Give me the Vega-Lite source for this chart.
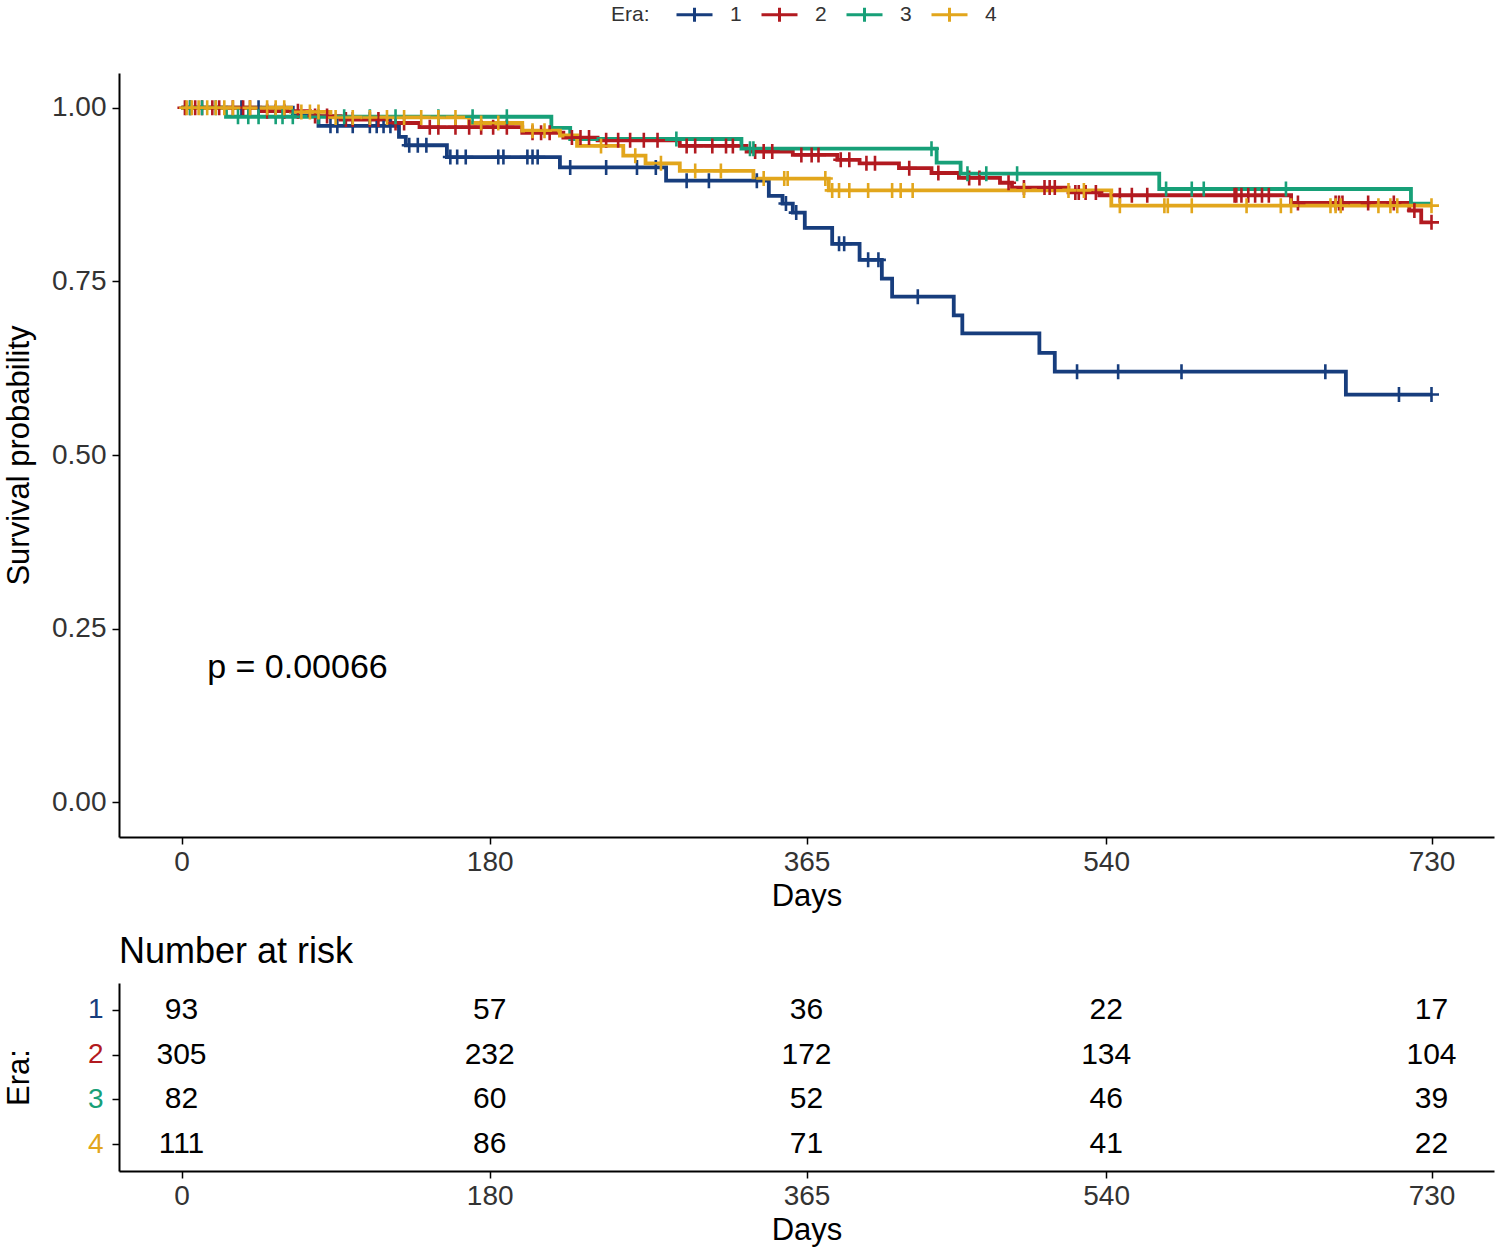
{
  "$schema": "https://vega.github.io/schema/vega-lite/v6.json",
  "background": "white",
  "padding": {"left": 3, "top": 3, "right": 5, "bottom": 5},
  "config": {
    "font": "Liberation Sans",
    "view": {"stroke": null},
    "axis": {"domainColor": "black", "domainWidth": 2, "tickColor": "black", "tickWidth": 1.5, "tickSize": 7, "grid": false, "labelFontSize": 28, "labelColor": "#333333", "titleFontSize": 31, "titleFontWeight": "normal", "titleColor": "black", "labelFlush": false}
  },
  "datasets": {
    "steps": [
      {"era": "1", "day": 0, "surv": 1.0}, {"era": "1", "day": 65, "surv": 0.989}, {"era": "1", "day": 80, "surv": 0.974}, {"era": "1", "day": 127, "surv": 0.958}, {"era": "1", "day": 131, "surv": 0.946}, {"era": "1", "day": 155, "surv": 0.929}, {"era": "1", "day": 221, "surv": 0.914}, {"era": "1", "day": 283, "surv": 0.895}, {"era": "1", "day": 343, "surv": 0.873}, {"era": "1", "day": 351, "surv": 0.862}, {"era": "1", "day": 357, "surv": 0.849}, {"era": "1", "day": 364, "surv": 0.827}, {"era": "1", "day": 380, "surv": 0.804}, {"era": "1", "day": 396, "surv": 0.781}, {"era": "1", "day": 409, "surv": 0.754}, {"era": "1", "day": 415, "surv": 0.728}, {"era": "1", "day": 451, "surv": 0.701}, {"era": "1", "day": 456, "surv": 0.675}, {"era": "1", "day": 501, "surv": 0.647}, {"era": "1", "day": 510, "surv": 0.620}, {"era": "1", "day": 680, "surv": 0.587}, {"era": "1", "day": 730, "surv": 0.587},
      {"era": "2", "day": 0, "surv": 1.0}, {"era": "2", "day": 46, "surv": 0.995}, {"era": "2", "day": 75, "surv": 0.988}, {"era": "2", "day": 93, "surv": 0.983}, {"era": "2", "day": 122, "surv": 0.978}, {"era": "2", "day": 139, "surv": 0.972}, {"era": "2", "day": 199, "surv": 0.964}, {"era": "2", "day": 223, "surv": 0.957}, {"era": "2", "day": 243, "surv": 0.953}, {"era": "2", "day": 291, "surv": 0.945}, {"era": "2", "day": 330, "surv": 0.937}, {"era": "2", "day": 357, "surv": 0.932}, {"era": "2", "day": 383, "surv": 0.925}, {"era": "2", "day": 396, "surv": 0.920}, {"era": "2", "day": 419, "surv": 0.913}, {"era": "2", "day": 438, "surv": 0.906}, {"era": "2", "day": 454, "surv": 0.899}, {"era": "2", "day": 478, "surv": 0.892}, {"era": "2", "day": 485, "surv": 0.885}, {"era": "2", "day": 518, "surv": 0.878}, {"era": "2", "day": 536, "surv": 0.874}, {"era": "2", "day": 648, "surv": 0.863}, {"era": "2", "day": 717, "surv": 0.852}, {"era": "2", "day": 724, "surv": 0.835}, {"era": "2", "day": 730, "surv": 0.835},
      {"era": "3", "day": 0, "surv": 1.0}, {"era": "3", "day": 26, "surv": 0.987}, {"era": "3", "day": 216, "surv": 0.971}, {"era": "3", "day": 227, "surv": 0.955}, {"era": "3", "day": 327, "surv": 0.941}, {"era": "3", "day": 441, "surv": 0.921}, {"era": "3", "day": 455, "surv": 0.905}, {"era": "3", "day": 571, "surv": 0.883}, {"era": "3", "day": 718, "surv": 0.862}, {"era": "3", "day": 730, "surv": 0.862},
      {"era": "4", "day": 0, "surv": 1.0}, {"era": "4", "day": 64, "surv": 0.994}, {"era": "4", "day": 87, "surv": 0.986}, {"era": "4", "day": 168, "surv": 0.978}, {"era": "4", "day": 199, "surv": 0.967}, {"era": "4", "day": 221, "surv": 0.960}, {"era": "4", "day": 231, "surv": 0.945}, {"era": "4", "day": 258, "surv": 0.931}, {"era": "4", "day": 271, "surv": 0.920}, {"era": "4", "day": 291, "surv": 0.909}, {"era": "4", "day": 334, "surv": 0.898}, {"era": "4", "day": 378, "surv": 0.881}, {"era": "4", "day": 543, "surv": 0.859}, {"era": "4", "day": 730, "surv": 0.859}
    ],
    "censor": [
      {"era": "1", "day": 35, "surv": 1.0}, {"era": "1", "day": 45, "surv": 1.0}, {"era": "1", "day": 87, "surv": 0.974}, {"era": "1", "day": 91, "surv": 0.974}, {"era": "1", "day": 100, "surv": 0.974}, {"era": "1", "day": 110, "surv": 0.974}, {"era": "1", "day": 114, "surv": 0.974}, {"era": "1", "day": 118, "surv": 0.974}, {"era": "1", "day": 122, "surv": 0.974}, {"era": "1", "day": 133, "surv": 0.946}, {"era": "1", "day": 138, "surv": 0.946}, {"era": "1", "day": 143, "surv": 0.946}, {"era": "1", "day": 157, "surv": 0.929}, {"era": "1", "day": 161, "surv": 0.929}, {"era": "1", "day": 166, "surv": 0.929}, {"era": "1", "day": 185, "surv": 0.929}, {"era": "1", "day": 188, "surv": 0.929}, {"era": "1", "day": 202, "surv": 0.929}, {"era": "1", "day": 205, "surv": 0.929}, {"era": "1", "day": 208, "surv": 0.929}, {"era": "1", "day": 227, "surv": 0.914}, {"era": "1", "day": 248, "surv": 0.914}, {"era": "1", "day": 266, "surv": 0.914}, {"era": "1", "day": 277, "surv": 0.914}, {"era": "1", "day": 295, "surv": 0.895}, {"era": "1", "day": 308, "surv": 0.895}, {"era": "1", "day": 336, "surv": 0.895}, {"era": "1", "day": 353, "surv": 0.862}, {"era": "1", "day": 359, "surv": 0.849}, {"era": "1", "day": 384, "surv": 0.804}, {"era": "1", "day": 387, "surv": 0.804}, {"era": "1", "day": 401, "surv": 0.781}, {"era": "1", "day": 407, "surv": 0.781}, {"era": "1", "day": 430, "surv": 0.728}, {"era": "1", "day": 523, "surv": 0.620}, {"era": "1", "day": 547, "surv": 0.620}, {"era": "1", "day": 584, "surv": 0.620}, {"era": "1", "day": 668, "surv": 0.620}, {"era": "1", "day": 711, "surv": 0.587}, {"era": "1", "day": 730, "surv": 0.587},
      {"era": "2", "day": 2, "surv": 1.0}, {"era": "2", "day": 5, "surv": 1.0}, {"era": "2", "day": 8, "surv": 1.0}, {"era": "2", "day": 12, "surv": 1.0}, {"era": "2", "day": 18, "surv": 1.0}, {"era": "2", "day": 22, "surv": 1.0}, {"era": "2", "day": 30, "surv": 1.0}, {"era": "2", "day": 36, "surv": 1.0}, {"era": "2", "day": 40, "surv": 1.0}, {"era": "2", "day": 50, "surv": 0.995}, {"era": "2", "day": 55, "surv": 0.995}, {"era": "2", "day": 60, "surv": 0.995}, {"era": "2", "day": 68, "surv": 0.995}, {"era": "2", "day": 78, "surv": 0.988}, {"era": "2", "day": 85, "surv": 0.988}, {"era": "2", "day": 96, "surv": 0.983}, {"era": "2", "day": 100, "surv": 0.983}, {"era": "2", "day": 110, "surv": 0.983}, {"era": "2", "day": 115, "surv": 0.983}, {"era": "2", "day": 125, "surv": 0.978}, {"era": "2", "day": 130, "surv": 0.978}, {"era": "2", "day": 145, "surv": 0.972}, {"era": "2", "day": 150, "surv": 0.972}, {"era": "2", "day": 160, "surv": 0.972}, {"era": "2", "day": 168, "surv": 0.972}, {"era": "2", "day": 175, "surv": 0.972}, {"era": "2", "day": 182, "surv": 0.972}, {"era": "2", "day": 190, "surv": 0.972}, {"era": "2", "day": 205, "surv": 0.964}, {"era": "2", "day": 210, "surv": 0.964}, {"era": "2", "day": 215, "surv": 0.964}, {"era": "2", "day": 228, "surv": 0.957}, {"era": "2", "day": 233, "surv": 0.957}, {"era": "2", "day": 238, "surv": 0.957}, {"era": "2", "day": 248, "surv": 0.953}, {"era": "2", "day": 255, "surv": 0.953}, {"era": "2", "day": 262, "surv": 0.953}, {"era": "2", "day": 270, "surv": 0.953}, {"era": "2", "day": 278, "surv": 0.953}, {"era": "2", "day": 295, "surv": 0.945}, {"era": "2", "day": 300, "surv": 0.945}, {"era": "2", "day": 310, "surv": 0.945}, {"era": "2", "day": 318, "surv": 0.945}, {"era": "2", "day": 322, "surv": 0.945}, {"era": "2", "day": 335, "surv": 0.937}, {"era": "2", "day": 340, "surv": 0.937}, {"era": "2", "day": 345, "surv": 0.937}, {"era": "2", "day": 362, "surv": 0.932}, {"era": "2", "day": 368, "surv": 0.932}, {"era": "2", "day": 372, "surv": 0.932}, {"era": "2", "day": 385, "surv": 0.925}, {"era": "2", "day": 390, "surv": 0.925}, {"era": "2", "day": 400, "surv": 0.920}, {"era": "2", "day": 405, "surv": 0.920}, {"era": "2", "day": 425, "surv": 0.913}, {"era": "2", "day": 442, "surv": 0.906}, {"era": "2", "day": 460, "surv": 0.899}, {"era": "2", "day": 466, "surv": 0.899}, {"era": "2", "day": 483, "surv": 0.892}, {"era": "2", "day": 492, "surv": 0.885}, {"era": "2", "day": 504, "surv": 0.885}, {"era": "2", "day": 507, "surv": 0.885}, {"era": "2", "day": 510, "surv": 0.885}, {"era": "2", "day": 522, "surv": 0.878}, {"era": "2", "day": 524, "surv": 0.878}, {"era": "2", "day": 528, "surv": 0.878}, {"era": "2", "day": 534, "surv": 0.878}, {"era": "2", "day": 548, "surv": 0.874}, {"era": "2", "day": 555, "surv": 0.874}, {"era": "2", "day": 564, "surv": 0.874}, {"era": "2", "day": 615, "surv": 0.874}, {"era": "2", "day": 616, "surv": 0.874}, {"era": "2", "day": 619, "surv": 0.874}, {"era": "2", "day": 623, "surv": 0.874}, {"era": "2", "day": 627, "surv": 0.874}, {"era": "2", "day": 631, "surv": 0.874}, {"era": "2", "day": 635, "surv": 0.874}, {"era": "2", "day": 652, "surv": 0.863}, {"era": "2", "day": 674, "surv": 0.863}, {"era": "2", "day": 676, "surv": 0.863}, {"era": "2", "day": 678, "surv": 0.863}, {"era": "2", "day": 693, "surv": 0.863}, {"era": "2", "day": 708, "surv": 0.863}, {"era": "2", "day": 720, "surv": 0.852}, {"era": "2", "day": 730, "surv": 0.835},
      {"era": "3", "day": 5, "surv": 1.0}, {"era": "3", "day": 12, "surv": 1.0}, {"era": "3", "day": 20, "surv": 1.0}, {"era": "3", "day": 33, "surv": 0.987}, {"era": "3", "day": 39, "surv": 0.987}, {"era": "3", "day": 45, "surv": 0.987}, {"era": "3", "day": 55, "surv": 0.987}, {"era": "3", "day": 59, "surv": 0.987}, {"era": "3", "day": 65, "surv": 0.987}, {"era": "3", "day": 80, "surv": 0.987}, {"era": "3", "day": 95, "surv": 0.987}, {"era": "3", "day": 110, "surv": 0.987}, {"era": "3", "day": 125, "surv": 0.987}, {"era": "3", "day": 150, "surv": 0.987}, {"era": "3", "day": 170, "surv": 0.987}, {"era": "3", "day": 190, "surv": 0.987}, {"era": "3", "day": 289, "surv": 0.955}, {"era": "3", "day": 332, "surv": 0.941}, {"era": "3", "day": 334, "surv": 0.941}, {"era": "3", "day": 438, "surv": 0.941}, {"era": "3", "day": 459, "surv": 0.905}, {"era": "3", "day": 470, "surv": 0.905}, {"era": "3", "day": 488, "surv": 0.905}, {"era": "3", "day": 575, "surv": 0.883}, {"era": "3", "day": 590, "surv": 0.883}, {"era": "3", "day": 597, "surv": 0.883}, {"era": "3", "day": 645, "surv": 0.883},
      {"era": "4", "day": 3, "surv": 1.0}, {"era": "4", "day": 6, "surv": 1.0}, {"era": "4", "day": 10, "surv": 1.0}, {"era": "4", "day": 15, "surv": 1.0}, {"era": "4", "day": 20, "surv": 1.0}, {"era": "4", "day": 25, "surv": 1.0}, {"era": "4", "day": 30, "surv": 1.0}, {"era": "4", "day": 40, "surv": 1.0}, {"era": "4", "day": 50, "surv": 1.0}, {"era": "4", "day": 55, "surv": 1.0}, {"era": "4", "day": 60, "surv": 1.0}, {"era": "4", "day": 70, "surv": 0.994}, {"era": "4", "day": 75, "surv": 0.994}, {"era": "4", "day": 80, "surv": 0.994}, {"era": "4", "day": 90, "surv": 0.986}, {"era": "4", "day": 100, "surv": 0.986}, {"era": "4", "day": 110, "surv": 0.986}, {"era": "4", "day": 120, "surv": 0.986}, {"era": "4", "day": 130, "surv": 0.986}, {"era": "4", "day": 140, "surv": 0.986}, {"era": "4", "day": 150, "surv": 0.986}, {"era": "4", "day": 160, "surv": 0.986}, {"era": "4", "day": 175, "surv": 0.978}, {"era": "4", "day": 185, "surv": 0.978}, {"era": "4", "day": 205, "surv": 0.967}, {"era": "4", "day": 212, "surv": 0.967}, {"era": "4", "day": 245, "surv": 0.945}, {"era": "4", "day": 265, "surv": 0.931}, {"era": "4", "day": 280, "surv": 0.920}, {"era": "4", "day": 300, "surv": 0.909}, {"era": "4", "day": 315, "surv": 0.909}, {"era": "4", "day": 340, "surv": 0.898}, {"era": "4", "day": 352, "surv": 0.898}, {"era": "4", "day": 354, "surv": 0.898}, {"era": "4", "day": 376, "surv": 0.898}, {"era": "4", "day": 380, "surv": 0.881}, {"era": "4", "day": 384, "surv": 0.881}, {"era": "4", "day": 390, "surv": 0.881}, {"era": "4", "day": 401, "surv": 0.881}, {"era": "4", "day": 415, "surv": 0.881}, {"era": "4", "day": 420, "surv": 0.881}, {"era": "4", "day": 427, "surv": 0.881}, {"era": "4", "day": 492, "surv": 0.881}, {"era": "4", "day": 518, "surv": 0.881}, {"era": "4", "day": 527, "surv": 0.881}, {"era": "4", "day": 548, "surv": 0.859}, {"era": "4", "day": 574, "surv": 0.859}, {"era": "4", "day": 576, "surv": 0.859}, {"era": "4", "day": 590, "surv": 0.859}, {"era": "4", "day": 622, "surv": 0.859}, {"era": "4", "day": 642, "surv": 0.859}, {"era": "4", "day": 648, "surv": 0.859}, {"era": "4", "day": 671, "surv": 0.859}, {"era": "4", "day": 674, "surv": 0.859}, {"era": "4", "day": 677, "surv": 0.859}, {"era": "4", "day": 699, "surv": 0.859}, {"era": "4", "day": 706, "surv": 0.859}, {"era": "4", "day": 710, "surv": 0.859}, {"era": "4", "day": 730, "surv": 0.859}
    ],
    "risk": [
      {"era": "1", "day": 0, "n": 93}, {"era": "1", "day": 180, "n": 57}, {"era": "1", "day": 365, "n": 36}, {"era": "1", "day": 540, "n": 22}, {"era": "1", "day": 730, "n": 17},
      {"era": "2", "day": 0, "n": 305}, {"era": "2", "day": 180, "n": 232}, {"era": "2", "day": 365, "n": 172}, {"era": "2", "day": 540, "n": 134}, {"era": "2", "day": 730, "n": 104},
      {"era": "3", "day": 0, "n": 82}, {"era": "3", "day": 180, "n": 60}, {"era": "3", "day": 365, "n": 52}, {"era": "3", "day": 540, "n": 46}, {"era": "3", "day": 730, "n": 39},
      {"era": "4", "day": 0, "n": 111}, {"era": "4", "day": 180, "n": 86}, {"era": "4", "day": 365, "n": 71}, {"era": "4", "day": 540, "n": 41}, {"era": "4", "day": 730, "n": 22}
    ],
    "pval": [{"day": 15, "surv": 0.193, "label": "p = 0.00066"}]
  },
  "bounds": "flush",
  "spacing": 146,
  "resolve": {"scale": {"color": "independent", "y": "independent"}, "legend": {"color": "independent"}},
  "vconcat": [
    {
      "width": 1375,
      "height": 764,
      "encoding": {
        "x": {"field": "day", "type": "quantitative", "scale": {"domain": [-36.5, 766.5], "nice": false, "zero": false}, "axis": {"values": [0, 180, 365, 540, 730], "title": "Days", "labelPadding": 4, "titlePadding": 5}},
        "y": {"field": "surv", "type": "quantitative", "scale": {"domain": [-0.05, 1.05], "nice": false, "zero": false}, "axis": {"values": [0, 0.25, 0.5, 0.75, 1], "format": ".2f", "title": "Survival probability", "labelPadding": 6, "titleX": -84}}
      },
      "layer": [
        {
          "data": {"name": "steps"},
          "mark": {"type": "line", "interpolate": "step-after", "strokeWidth": 3.8},
          "encoding": {
            "color": {"field": "era", "type": "nominal", "scale": {"domain": ["1", "2", "3", "4"], "range": ["#173d7d", "#b21a20", "#17a078", "#e2a61c"]},
              "legend": {"orient": "none", "legendX": 492, "legendY": -70, "direction": "horizontal", "title": "Era:", "titleOrient": "left", "titleFontSize": 21, "titleFontWeight": "normal", "titleColor": "#333333", "labelFontSize": 21, "labelColor": "#333333", "symbolType": "M-1.8,0H1.8M0,-0.7V0.7", "symbolSize": 400, "symbolStrokeWidth": 3, "labelOffset": 24, "columnPadding": 13, "titlePadding": 33, "padding": 0}}
          }
        },
        {
          "data": {"name": "censor"},
          "mark": {"type": "point", "shape": "M0,-1V1M-1,0H1", "size": 225, "strokeWidth": 2.6, "filled": false, "opacity": 1},
          "encoding": {"color": {"field": "era", "type": "nominal"}}
        },
        {
          "data": {"name": "pval"},
          "mark": {"type": "text", "align": "left", "baseline": "middle", "fontSize": 34, "color": "black"},
          "encoding": {"text": {"field": "label"}}
        }
      ]
    },
    {
      "width": 1375,
      "height": 188,
      "title": {"text": "Number at risk", "anchor": "start", "frame": "group", "fontSize": 36, "fontWeight": "normal", "color": "black", "offset": 12},
      "data": {"name": "risk"},
      "mark": {"type": "text", "fontSize": 30, "color": "black", "baseline": "middle", "align": "center"},
      "encoding": {
        "x": {"field": "day", "type": "quantitative", "scale": {"domain": [-36.5, 766.5], "nice": false, "zero": false}, "axis": {"values": [0, 180, 365, 540, 730], "title": "Days", "labelPadding": 4, "titlePadding": 5}},
        "y": {"field": "era", "type": "ordinal", "scale": {"domain": ["1", "2", "3", "4"], "padding": 0.6}, "axis": {"title": "Era:", "titleX": -84, "labelPadding": 9, "labelColor": {"expr": "datum.value == '1' ? '#173d7d' : datum.value == '2' ? '#b21a20' : datum.value == '3' ? '#17a078' : '#e2a61c'"}}},
        "text": {"field": "n", "type": "quantitative"}
      }
    }
  ]
}
